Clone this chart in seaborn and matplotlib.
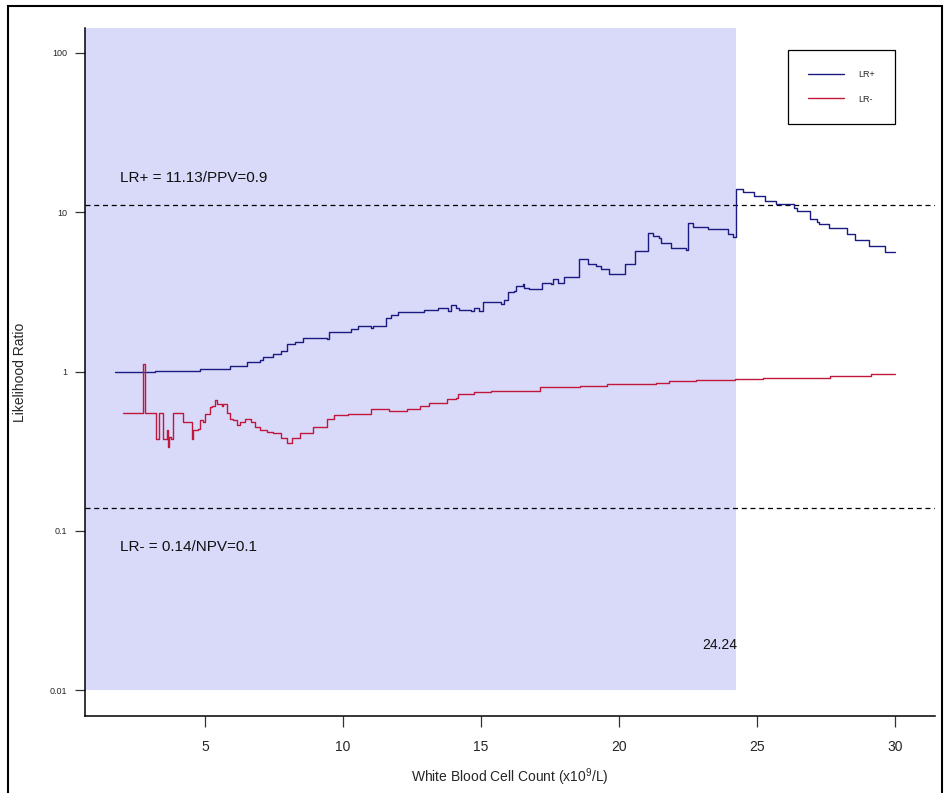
import numpy as np
import pandas as pd
import matplotlib
matplotlib.use("Agg")
import matplotlib.pyplot as plt
import matplotlib.patches as mpatches
import seaborn as sns

# ---------------- data ----------------
lr_pos_x = [1.73, 3.18, 4.27, 4.82, 5.65, 5.91, 6.53, 7.00, 7.11, 7.47, 7.73, 7.98, 8.27, 8.56,
            9.43, 9.47, 10.16, 10.27, 10.52, 11.00, 11.07, 11.54, 11.72, 11.98, 12.92, 13.43,
            13.79, 13.90, 14.08, 14.19, 14.63, 14.74, 14.92, 15.07, 15.72, 15.83, 15.97, 16.19,
            16.26, 16.52, 16.56, 16.74, 17.21, 17.54, 17.61, 17.79, 18.01, 18.55, 18.88, 19.17,
            19.35, 19.64, 20.23, 20.59, 21.06, 21.24, 21.46, 21.53, 21.90, 22.44, 22.51, 22.70,
            23.24, 23.97, 24.12, 24.24, 24.51, 24.91, 25.28, 25.71, 26.33, 26.44, 26.91, 27.17,
            27.24, 27.60, 28.26, 28.55, 29.06, 29.64, 30.00]
lr_pos_y = [1.00, 1.015, 1.015, 1.03, 1.044, 1.09, 1.14, 1.19, 1.24, 1.28, 1.35, 1.48, 1.54, 1.63,
            1.61, 1.76, 1.78, 1.86, 1.94, 1.89, 1.94, 2.18, 2.28, 2.38, 2.45, 2.52,
            2.41, 2.63, 2.52, 2.45, 2.41, 2.52, 2.41, 2.75, 2.67, 2.83, 3.17, 3.22,
            3.46, 3.56, 3.36, 3.31, 3.61, 3.56, 3.83, 3.61, 3.94, 5.11, 4.76, 4.62,
            4.42, 4.12, 4.76, 5.74, 7.44, 7.12, 6.92, 6.44, 5.99, 5.82, 8.59, 8.11,
            7.88, 7.33, 7.02, 14.04, 13.45, 12.69, 11.80, 11.30, 10.67, 10.22, 9.11, 8.72,
            8.47, 7.99, 7.33, 6.72, 6.17, 5.65, 5.65]

lr_neg_x = [2.02, 2.75, 2.82, 3.22, 3.33, 3.47, 3.62, 3.66, 3.69, 3.76, 3.84, 4.20, 4.53, 4.56,
            4.75, 4.82, 4.93, 5.00, 5.18, 5.25, 5.36, 5.44, 5.62, 5.65, 5.80, 5.91, 6.02, 6.16,
            6.27, 6.45, 6.64, 6.82, 7.00, 7.25, 7.47, 7.73, 7.98, 8.16, 8.45, 8.92, 9.43, 9.65,
            10.16, 11.00, 11.65, 12.30, 12.78, 13.10, 13.76, 14.08, 14.16, 14.74, 15.36, 17.14,
            18.59, 19.57, 21.35, 21.82, 22.81, 24.19, 25.24, 26.04, 27.67, 29.13, 30.00]
lr_neg_y = [0.553, 1.122, 0.553, 0.375, 0.553, 0.375, 0.427, 0.334, 0.386, 0.375, 0.553, 0.479,
            0.375, 0.427, 0.433, 0.493, 0.479, 0.545, 0.595, 0.612, 0.658, 0.630, 0.612, 0.630,
            0.553, 0.507, 0.493, 0.465, 0.479, 0.507, 0.479, 0.446, 0.427, 0.415, 0.409, 0.380,
            0.354, 0.380, 0.409, 0.446, 0.507, 0.530, 0.545, 0.586, 0.569, 0.586, 0.612, 0.639,
            0.677, 0.687, 0.728, 0.739, 0.760, 0.794, 0.817, 0.841, 0.853, 0.878, 0.891, 0.904,
            0.917, 0.917, 0.944, 0.972, 0.972]

series_names = ["LR+", "LR-"]
series_colors = ["#1a1a80", "#c0183c"]
cutoff = 24.24
lr_pos_threshold = 11.13
lr_neg_threshold = 0.14
lr_pos_text = "LR+ = 11.13/PPV=0.9"
lr_neg_text = "LR- = 0.14/NPV=0.1"
y_ticks = [0.01, 0.1, 1, 10, 100]
y_tick_labels = ["0.01", "0.1", "1", "10", "100"]
x_ticks = [5, 10, 15, 20, 25, 30]

df = pd.concat([
    pd.DataFrame({"x": lr_pos_x, "y": lr_pos_y, "series": "LR+"}),
    pd.DataFrame({"x": lr_neg_x, "y": lr_neg_y, "series": "LR-"}),
], ignore_index=True)

# ---------------- figure ----------------
sns.set_style("white")
plt.rcParams["font.family"] = ["Liberation Sans", "DejaVu Sans"]
plt.rcParams["mathtext.default"] = "regular"

fig = plt.figure(figsize=(9.48, 7.93), dpi=100)
ax = fig.add_axes([0.0897, 0.097, 0.8963, 0.8677])
ax.set_yscale("log")
x_lo, x_hi = 0.64, 31.45
y_lo, y_hi = 0.00687, 143.5
ax.set_xlim(x_lo, x_hi)
ax.set_ylim(y_lo, y_hi)

# shaded region up to the cutoff
ax.fill_between([x_lo, cutoff], [0.01, 0.01], [y_hi, y_hi],
                color="#d9d9fa", linewidth=0, zorder=0)

sns.lineplot(data=df, x="x", y="y", hue="series", hue_order=series_names,
             palette=dict(zip(series_names, series_colors)),
             estimator=None, sort=False, drawstyle="steps-post",
             linewidth=1.0, legend=False, ax=ax, zorder=3)

ax.axhline(lr_pos_threshold, color="black", linestyle=(0, (4, 3)), linewidth=0.9, zorder=2)
ax.axhline(lr_neg_threshold, color="black", linestyle=(0, (4, 3)), linewidth=0.9, zorder=2)

ax.text(1.91, 16.5, lr_pos_text, fontsize=11, ha="left", va="center", color="#111111")
ax.text(1.91, 0.0788, lr_neg_text, fontsize=11, ha="left", va="center", color="#111111")
ax.text(cutoff - 0.6, 0.0191, f"{cutoff:.2f}", fontsize=10, ha="center", va="center",
        color="#111111")

# axes styling
ax.set_yticks(y_ticks)
ax.set_yticklabels(y_tick_labels)
ax.yaxis.set_minor_locator(matplotlib.ticker.NullLocator())
ax.set_xticks(x_ticks)
ax.set_xticklabels([str(t) for t in x_ticks])
ax.tick_params(axis="y", which="major", direction="out", length=7, width=0.9,
               labelsize=6.5, pad=6, left=True, color="#333333")
ax.tick_params(axis="x", which="major", direction="out", length=8, width=0.9,
               labelsize=10, pad=9, bottom=True, color="#333333")
for side in ["top", "right"]:
    ax.spines[side].set_visible(False)
for side in ["left", "bottom"]:
    ax.spines[side].set_color("black")
    ax.spines[side].set_linewidth(1.1)
ax.set_facecolor("white")

ax.set_xlabel("White Blood Cell Count (x10$^{9}$/L)", fontsize=10, labelpad=9)
ax.set_ylabel("Likelihood Ratio", fontsize=10)
ax.yaxis.set_label_coords(-0.068, 0.5)

handles = [matplotlib.lines.Line2D([], [], color=c, linewidth=1.0) for c in series_colors]
leg = ax.legend(handles, series_names, loc="upper right",
                bbox_to_anchor=(900 / 948, 1 - 45 / 793), bbox_transform=fig.transFigure,
                fontsize=6.5, frameon=True, fancybox=False, framealpha=1,
                edgecolor="black", borderpad=2.3, labelspacing=1.7,
                handlelength=3.9, handletextpad=1.6)
leg.get_frame().set_linewidth(0.9)

# outer frame around the figure
fig.patches.append(mpatches.Rectangle((0.0084, -0.01), 0.9853, 1.0024, fill=False,
                                      edgecolor="black", linewidth=1.5,
                                      transform=fig.transFigure, figure=fig))

fig.savefig("out.png", dpi=100)
